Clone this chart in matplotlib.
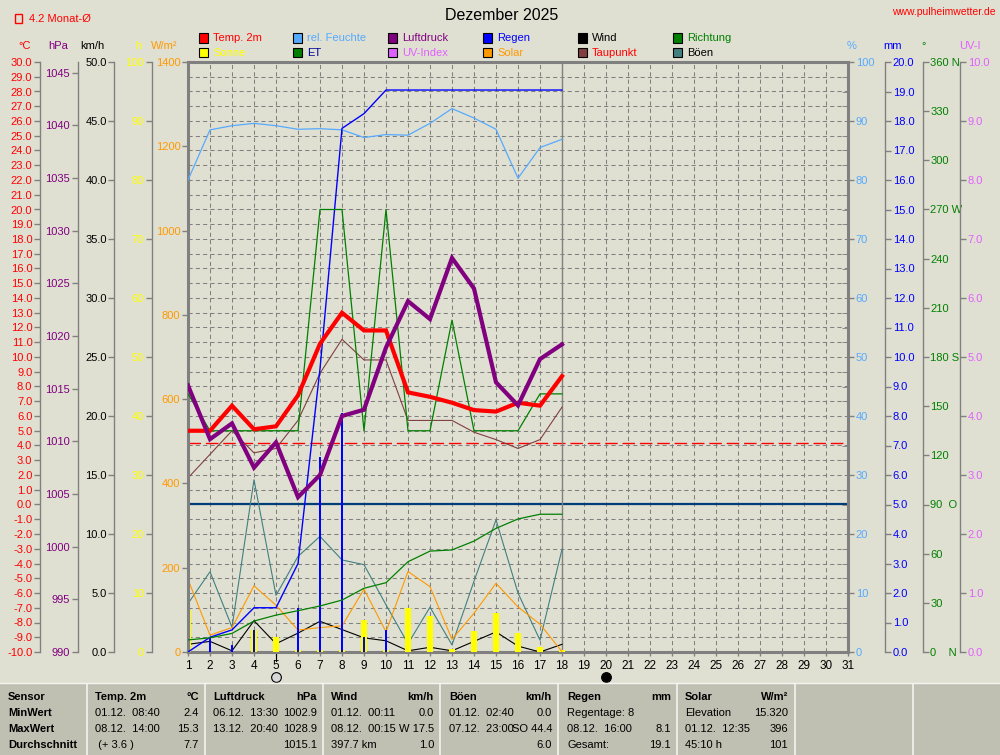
import matplotlib
matplotlib.use('Agg')
import matplotlib.pyplot as plt
import matplotlib.transforms as mtransforms
from matplotlib.patches import Rectangle
from matplotlib.lines import Line2D
from matplotlib.ticker import MultipleLocator, FixedLocator, FuncFormatter

plt.rcParams['font.family'] = ['Liberation Sans', 'DejaVu Sans']
plt.rcParams['font.size'] = 8

# ---------------- data (daily values, December 2025) ----------------
days = list(range(1, 19))
temp = [5.0, 5.0, 6.7, 5.1, 5.3, 7.4, 10.9, 13.0, 11.8, 11.8, 7.6, 7.3, 6.9, 6.4, 6.3, 6.9, 6.7, 8.7]
dewpoint = [1.8, 3.4, 5.0, 3.5, 3.8, 5.7, 8.9, 11.2, 9.8, 9.8, 5.7, 5.7, 5.7, 4.9, 4.4, 3.8, 4.4, 6.6]
pressure = [1015.3, 1010.2, 1011.7, 1007.5, 1009.9, 1004.7, 1006.8, 1012.4, 1013.0, 1018.9,
            1023.3, 1021.6, 1027.4, 1024.5, 1015.6, 1013.4, 1017.8, 1019.2]
humidity = [80.0, 88.5, 89.2, 89.6, 89.2, 88.6, 88.7, 88.5, 87.2, 87.7, 87.6, 89.6, 92.1, 90.5,
            88.6, 80.3, 85.5, 86.9]
rain = [0.0, 0.5, 0.25, 0.75, 0.0, 1.5, 6.6, 8.1, 0.5, 0.75, 0, 0, 0, 0, 0, 0, 0, 0]
rain_total = [0.0, 0.5, 0.75, 1.5, 1.5, 3.0, 9.6, 17.75, 18.25, 19.05, 19.05, 19.05, 19.05, 19.05,
              19.05, 19.05, 19.05, 19.05]
sunshine = [7.2, 0.0, 0.0, 3.8, 2.6, 0.3, 0.3, 0.4, 5.5, 0.3, 7.4, 6.1, 0.5, 3.6, 6.6, 3.3, 0.8, 0.3]
solar = [172, 40, 58, 157, 111, 52, 58, 62, 149, 48, 191, 155, 30, 92, 163, 107, 66, 1]
wind = [0.65, 0.9, 0.1, 2.65, 0.7, 1.6, 2.6, 1.9, 1.2, 0.95, 0.1, 0.4, 0.1, 0.9, 1.7, 0.5, 0.0, 0.65]
gusts = [4.1, 6.8, 2.1, 14.6, 4.8, 8.1, 9.8, 7.8, 7.4, 4.0, 0.7, 3.8, 0.6, 6.0, 11.2, 5.0, 1.0, 8.7]
direction = [157.5, 135, 135, 135, 135, 135, 270, 270, 135, 270, 135, 135, 202.5, 135, 135, 135,
             157.5, 157.5]
et = [0.41, 0.48, 0.63, 1.05, 1.25, 1.4, 1.56, 1.76, 2.16, 2.35, 3.06, 3.42, 3.46, 3.76, 4.19, 4.51,
      4.67, 4.67]
month_mean = 4.2
current_day = 18
moon_days = [5, 20]
moon_fill = ['#d8d8d8', '#000000']

legend_row1 = ['Temp. 2m', 'rel. Feuchte', 'Luftdruck', 'Regen', 'Wind', 'Richtung']
legend_row2 = ['Sonne', 'ET', 'UV-Index', 'Solar', 'Taupunkt', 'Böen']

table_header = [('Sensor', ''), ('Temp. 2m', '°C'), ('Luftdruck', 'hPa'), ('Wind', 'km/h'),
                ('Böen', 'km/h'), ('Regen', 'mm'), ('Solar', 'W/m²')]
table_rows = ['MinWert', 'MaxWert', 'Durchschnitt']
table_cells = [
    [('01.12.  08:40', '2.4'), ('06.12.  13:30', '1002.9'), ('01.12.  00:11', '0.0'),
     ('01.12.  02:40', '0.0'), ('Regentage: 8', ''), ('Elevation', '15.320')],
    [('08.12.  14:00', '15.3'), ('13.12.  20:40', '1028.9'), ('08.12.  00:15', 'W 17.5'),
     ('07.12.  23:00', 'SO 44.4'), ('08.12.  16:00', '8.1'), ('01.12.  12:35', '396')],
    [(' (+ 3.6 )', '7.7'), ('', '1015.1'), ('397.7 km', '1.0'), ('', '6.0'), ('Gesamt:', '19.1'),
     ('45:10 h', '101')],
]

# ---------------- style ----------------
W, H = 1000, 755
BG = '#e0e0d2'
TBG = '#c0c0b2'
GRAY = '#808080'
C_TEMP = '#ff0000'
C_HUM = '#55aaff'
C_P = '#800080'
C_RAIN = '#0000ff'
C_WIND = '#000000'
C_DIR = '#008000'
C_SUN = '#ffff00'
C_ET = '#008000'
C_UV = '#e060ff'
C_SOLAR = '#ff9900'
C_DEW = '#804040'
C_GUST = '#408080'


def fx(px):
    return px / W


def fy(py):
    return 1 - py / H


fig = plt.figure(figsize=(10, 7.55), dpi=100, facecolor=BG)
L, R, T, B = 188, 848, 62, 652
ax = fig.add_axes([fx(L), fy(B), (R - L) / W, (B - T) / H])
ax.set_facecolor(BG)
ax.set_xlim(1, 31)
ax.set_ylim(-10, 30)


def xoff(px):
    return (px - L) / (R - L)


# main axis = temperature scale (far left spine)
ax.spines['right'].set_visible(False)
ax.spines['top'].set_color(GRAY)
ax.spines['top'].set_linewidth(2.2)
ax.spines['bottom'].set_color(GRAY)
ax.spines['bottom'].set_linewidth(2.2)
ax.spines['left'].set_position(('axes', xoff(40)))
ax.spines['left'].set_color(GRAY)
ax.spines['left'].set_linewidth(1)
ax.yaxis.set_major_locator(MultipleLocator(1))
ax.yaxis.set_major_formatter(FuncFormatter(lambda v, p: f'{v:.1f}'))
ax.tick_params(axis='y', color=GRAY, labelcolor=C_TEMP, length=4, width=1, pad=1.5, labelsize=8)
ax.set_xticks(range(1, 32))
ax.tick_params(axis='x', color=GRAY, labelcolor='black', length=3, width=1, pad=3, labelsize=8.5)
ax.grid(True, color=GRAY, lw=0.75, ls=(0, (4, 3)))
ax.set_axisbelow(True)

ax.axhline(month_mean, color=C_TEMP, lw=1.0, ls=(0, (9, 3.5)), zorder=2)
ax.axhline(0, color='#003c78', lw=1.6, zorder=2)
ax.axvline(current_day, color=GRAY, lw=1, zorder=2)
ax.plot(days, dewpoint, color=C_DEW, lw=0.8, zorder=3)


def make_twin(side, pos, ylim, color, major, fmt, lw=1):
    a = ax.twinx()
    a.set_ylim(*ylim)
    for s in a.spines.values():
        s.set_visible(False)
    sp = a.spines[side]
    sp.set_visible(True)
    sp.set_position(('axes', pos))
    sp.set_color(GRAY)
    sp.set_linewidth(lw)
    if side == 'left':
        a.yaxis.tick_left()
    else:
        a.yaxis.tick_right()
    if isinstance(major, list):
        a.yaxis.set_major_locator(FixedLocator(major))
    else:
        a.yaxis.set_major_locator(MultipleLocator(major))
    a.yaxis.set_major_formatter(FuncFormatter(fmt))
    a.tick_params(axis='y', color=GRAY, labelcolor=color, length=4, width=1, pad=1.5, labelsize=8)
    return a


ax_hpa = make_twin('left', xoff(77.7), (990, 1046), C_P, 5, lambda v, p: f'{v:.0f}')
ax_kmh = make_twin('left', xoff(114.3), (0, 50), 'black', 5, lambda v, p: f'{v:.1f}')
ax_h = make_twin('left', xoff(151.7), (0, 100), C_SUN, 10, lambda v, p: f'{v:.0f}')
ax_w = make_twin('left', 0.0, (0, 1400), C_SOLAR, 200, lambda v, p: f'{v:.0f}', lw=2.2)
ax_pct = make_twin('right', 1.0, (0, 100), C_HUM, 10, lambda v, p: f'{v:.0f}', lw=2.2)
ax_pct.yaxis.set_minor_locator(MultipleLocator(2.5))
ax_pct.tick_params(axis='y', which='minor', direction='in', length=4, color=GRAY)
ax_mm = make_twin('right', xoff(885), (0, 20), C_RAIN, 1, lambda v, p: f'{v:.1f}')
deg_names = {0: '0    N', 90: '90  O', 180: '180 S', 270: '270 W', 360: '360 N'}
ax_deg = make_twin('right', xoff(922.7), (0, 360), C_DIR, list(range(0, 361, 30)),
                   lambda v, p: deg_names.get(int(round(v)), f'{v:.0f}'))
ax_uv = make_twin('right', xoff(960), (0, 10), C_UV, 1, lambda v, p: f'{v:.1f}')
ax_top = ax.twinx()
ax_top.set_ylim(-10, 30)
ax_top.axis('off')
ax_ptop = ax.twinx()
ax_ptop.set_ylim(990, 1046)
ax_ptop.axis('off')

# ---- series ----
ax_w.plot(days, solar, color=C_SOLAR, lw=0.8)
ax_h.bar(days, sunshine, width=0.24, color=C_SUN, zorder=2)
ax_mm.bar(days, rain, width=0.13, color=C_RAIN, zorder=3)
ax_mm.plot(days, rain_total, color=C_RAIN, lw=1.0, zorder=3)
ax_mm.plot(days, et, color=C_ET, lw=0.9, zorder=3)
ax_pct.plot(days, humidity, color=C_HUM, lw=0.9)
ax_kmh.plot(days, gusts, color=C_GUST, lw=0.8)
ax_kmh.plot(days, wind, color=C_WIND, lw=0.8)
ax_deg.plot(days, direction, color=C_DIR, lw=0.9)
ax_top.plot(days, temp, color=C_TEMP, lw=3.0, solid_joinstyle='miter')
ax_ptop.plot(days, pressure, color=C_P, lw=3.0, solid_joinstyle='miter')

# moon phases below axis
trans = mtransforms.blended_transform_factory(ax.transData, ax.transAxes)
for d, fc in zip(moon_days, moon_fill):
    ax.plot([d], [-0.0424], marker='o', ms=7, mfc=fc, mec='black', mew=0.8,
            transform=trans, clip_on=False, zorder=5)
ax.plot([moon_days[0], moon_days[0]], [0, -0.016], color='black', lw=0.8,
        transform=trans, clip_on=False)

# ---------------- header texts ----------------
fig.text(fx(502), fy(15), 'Dezember 2025', ha='center', va='center', fontsize=11.5, color='black')
fig.text(fx(996), fy(12), 'www.pulheimwetter.de', ha='right', va='center', fontsize=7.5, color='#ff0000')
fig.add_artist(Rectangle((fx(15), fy(23)), 7 / W, 9 / H, transform=fig.transFigure,
                         fill=False, ec='#ff0000', lw=1))
fig.text(fx(29), fy(18.5), '4.2 Monat-Ø', ha='left', va='center', fontsize=8, color='#ff0000')

axis_heads = [(25, '°C', C_TEMP), (58, 'hPa', C_P), (92, 'km/h', 'black'), (138, 'h', C_SUN),
              (164, 'W/m²', C_SOLAR), (852, '%', C_HUM), (893, 'mm', C_RAIN), (924, '°', C_DIR),
              (970, 'UV-I', C_UV)]
for x, t, c in axis_heads:
    fig.text(fx(x), fy(46), t, ha='center', va='center', fontsize=8, color=c)

# legend
col_x = [199, 293, 388, 483, 578, 673]
row1_sw = [C_TEMP, C_HUM, C_P, C_RAIN, C_WIND, C_DIR]
row1_tc = [C_TEMP, C_HUM, C_P, C_RAIN, 'black', C_DIR]
row2_sw = [C_SUN, C_ET, C_UV, C_SOLAR, C_DEW, C_GUST]
row2_tc = [C_SUN, '#0000a0', C_UV, C_SOLAR, '#ff0000', 'black']
for row_y, labels, sws, tcs in [(38, legend_row1, row1_sw, row1_tc), (52.5, legend_row2, row2_sw, row2_tc)]:
    for x, lab, sw, tc in zip(col_x, labels, sws, tcs):
        fig.add_artist(Rectangle((fx(x), fy(row_y + 4.5)), 9 / W, 9 / H, transform=fig.transFigure,
                                 fc=sw, ec='black', lw=0.8))
        fig.text(fx(x + 14), fy(row_y), lab, ha='left', va='center', fontsize=8, color=tc)

# ---------------- bottom table ----------------
fig.add_artist(Rectangle((0, 0), 1, fy(683), transform=fig.transFigure, fc=TBG, ec='none'))
fig.add_artist(Line2D([0, 1], [fy(683), fy(683)], transform=fig.transFigure, color='#f4f4f0', lw=1))
seps = [87, 205, 323, 440, 558, 677, 795, 913]
for s in seps:
    fig.add_artist(Line2D([fx(s), fx(s)], [0, fy(684)], transform=fig.transFigure,
                          color='#f4f4f0', lw=1.2))
row_y = [697, 713, 729, 745]
col_left = [8, 95, 213, 331, 449, 567, 685]
col_right = [None, 199, 317, 434, 552, 671, 788]
for i, (lt, rt) in enumerate(table_header):
    fig.text(fx(col_left[i]), fy(row_y[0]), lt, ha='left', va='center', fontsize=8, fontweight='bold')
    if rt:
        fig.text(fx(col_right[i]), fy(row_y[0]), rt, ha='right', va='center', fontsize=8,
                 fontweight='bold')
for r, name in enumerate(table_rows):
    fig.text(fx(col_left[0]), fy(row_y[r + 1]), name, ha='left', va='center', fontsize=8,
             fontweight='bold')
    for c, (lt, rt) in enumerate(table_cells[r]):
        if lt:
            fig.text(fx(col_left[c + 1]), fy(row_y[r + 1]), lt, ha='left', va='center', fontsize=8)
        if rt:
            fig.text(fx(col_right[c + 1]), fy(row_y[r + 1]), rt, ha='right', va='center', fontsize=8)

fig.savefig('out.png', dpi=100, facecolor=BG)
